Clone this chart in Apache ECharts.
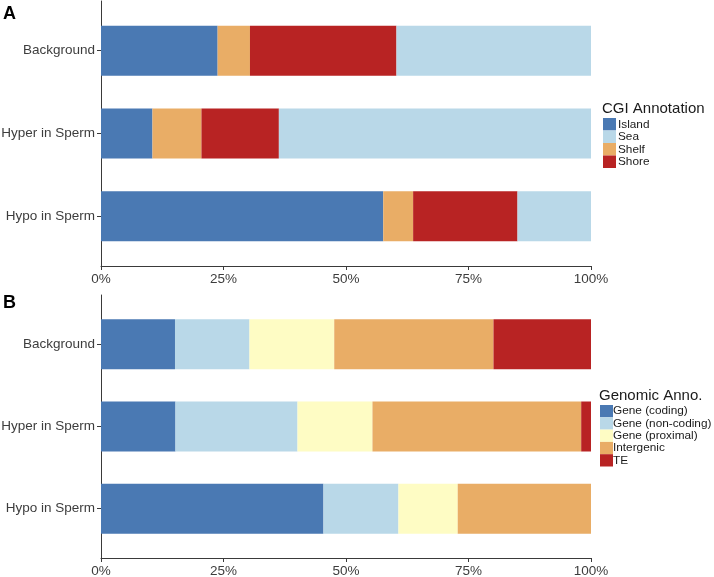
<!DOCTYPE html>
<html>
<head>
<meta charset="utf-8">
<script src="https://cdn.jsdelivr.net/npm/echarts@6/dist/echarts.min.js"></script>
<style>html,body{margin:0;padding:0;background:#fff;}#c{width:714px;height:577px;}</style>
</head>
<body>
<div id="c"></div>
<script>
var categories = ['Background', 'Hyper in Sperm', 'Hypo in Sperm'];
var xTicks = [0, 25, 50, 75, 100];

// Panel A: CGI Annotation (percent)
var cgiLegend = ['Island', 'Sea', 'Shelf', 'Shore'];
var cgiIsland = [23.8, 10.5, 57.6];
var cgiShelf  = [6.6, 10.0, 6.1];
var cgiShore  = [29.9, 15.8, 21.3];
var cgiSea    = [39.7, 63.7, 15.0];

// Panel B: Genomic Annotation (percent)
var genLegend = ['Gene (coding)', 'Gene (non-coding)', 'Gene (proximal)', 'Intergenic', 'TE'];
var genCoding     = [15.1, 15.2, 45.4];
var genNonCoding  = [15.2, 24.9, 15.3];
var genProximal   = [17.3, 15.3, 12.1];
var genIntergenic = [32.5, 42.6, 27.2];
var genTE         = [19.9, 2.0, 0];

var colors = {
  'Island': '#4a79b3', 'Sea': '#b9d8e8', 'Shelf': '#e9ad66', 'Shore': '#b82323',
  'Gene (coding)': '#4a79b3', 'Gene (non-coding)': '#b9d8e8', 'Gene (proximal)': '#fefcc4',
  'Intergenic': '#e9ad66', 'TE': '#b82323'
};

// ggplot-style discrete axis expansion (0.6 units) via padded point axis
var SLOTS = 17, POS = [3, 8, 13];
function padCats(c) { var a = []; for (var i = 0; i < SLOTS; i++) a.push(''); POS.forEach(function (p, k) { a[p] = c[k]; }); return a; }
function padData(d) { var a = []; for (var i = 0; i < SLOTS; i++) a.push('-'); POS.forEach(function (p, k) { a[p] = d[k]; }); return a; }
function isPos(i) { return POS.indexOf(i) >= 0; }

var FONT = 'Liberation Sans';
var axisCol = '#3a3a3a';
var txtCol = '#3d3d3d';

function xAxis(gi) {
  return {
    type: 'value', gridIndex: gi, min: 0, max: 100, interval: 25,
    splitLine: { show: false },
    axisLine: { show: true, lineStyle: { color: axisCol, width: 1 } },
    axisTick: { show: true, length: 4, lineStyle: { color: axisCol } },
    axisLabel: { formatter: function (v) { return xTicks.indexOf(v) >= 0 ? v + '%' : ''; }, fontSize: 13.5, fontFamily: FONT, color: txtCol, margin: 6 }
  };
}
function yAxis(gi) {
  return {
    type: 'category', gridIndex: gi, inverse: true, boundaryGap: false,
    data: padCats(categories),
    axisLine: { show: true, lineStyle: { color: axisCol, width: 1 } },
    axisTick: { show: true, length: 4, interval: function (i) { return isPos(i); }, lineStyle: { color: axisCol } },
    axisLabel: { interval: function (i) { return isPos(i); }, fontSize: 13.5, fontFamily: FONT, color: txtCol, margin: 6 },
    splitLine: { show: false }
  };
}
function bar(name, data, gi, stack) {
  return {
    name: name, type: 'bar', stack: stack, xAxisIndex: gi, yAxisIndex: gi,
    barWidth: 50, data: padData(data), itemStyle: { color: colors[name] }
  };
}
// icons-only legend
function legendIcons(names, left, top, h) {
  return {
    data: names, orient: 'vertical', left: left, top: top, itemGap: 0, padding: 0,
    itemWidth: 13, itemHeight: h, icon: 'rect', selectedMode: false,
    formatter: function () { return ''; },
    textStyle: { fontSize: 12, lineHeight: h }
  };
}
// text-only legend
function legendText(names, left, top, h) {
  return {
    data: names.map(function (n) { return { name: n, icon: 'none' }; }),
    orient: 'vertical', left: left, top: top, itemGap: 0, padding: 0,
    itemWidth: 0, itemHeight: h, selectedMode: false,
    textStyle: { fontSize: 11.8, fontFamily: FONT, color: '#1a1a1a', lineHeight: h }
  };
}

var option = {
  animation: false,
  backgroundColor: '#fff',
  title: [
    { text: 'A', left: 3, top: 5, padding: 0, textStyle: { fontSize: 18, fontWeight: 'bold', fontFamily: FONT, color: '#000' } },
    { text: 'B', left: 3, top: 294, padding: 0, textStyle: { fontSize: 18, fontWeight: 'bold', fontFamily: FONT, color: '#000' } },
    { text: 'CGI Annotation', left: 602, top: 101, padding: 0, textStyle: { fontSize: 15, fontWeight: 'normal', fontFamily: FONT, color: '#1a1a1a' } },
    { text: 'Genomic Anno.', left: 599, top: 388, padding: 0, textStyle: { fontSize: 15, fontWeight: 'normal', fontFamily: FONT, color: '#1a1a1a' } }
  ],
  legend: [
    legendIcons(cgiLegend, 603, 118, 12.5), legendText(cgiLegend, 613, 118, 12.5),
    legendIcons(genLegend, 600, 405, 12.3), legendText(genLegend, 608, 405, 12.3)
  ],
  grid: [
    { left: 101, top: 1, width: 490, height: 265, outerBoundsMode: 'none' },
    { left: 101, top: 295, width: 490, height: 263, outerBoundsMode: 'none' }
  ],
  xAxis: [xAxis(0), xAxis(1)],
  yAxis: [yAxis(0), yAxis(1)],
  series: [
    bar('Island', cgiIsland, 0, 'a'),
    bar('Shelf', cgiShelf, 0, 'a'),
    bar('Shore', cgiShore, 0, 'a'),
    bar('Sea', cgiSea, 0, 'a'),
    bar('Gene (coding)', genCoding, 1, 'b'),
    bar('Gene (non-coding)', genNonCoding, 1, 'b'),
    bar('Gene (proximal)', genProximal, 1, 'b'),
    bar('Intergenic', genIntergenic, 1, 'b'),
    bar('TE', genTE, 1, 'b')
  ]
};
var chart = echarts.init(document.getElementById('c'), null, { renderer: 'canvas' });
chart.setOption(option);
</script>
</body>
</html>
